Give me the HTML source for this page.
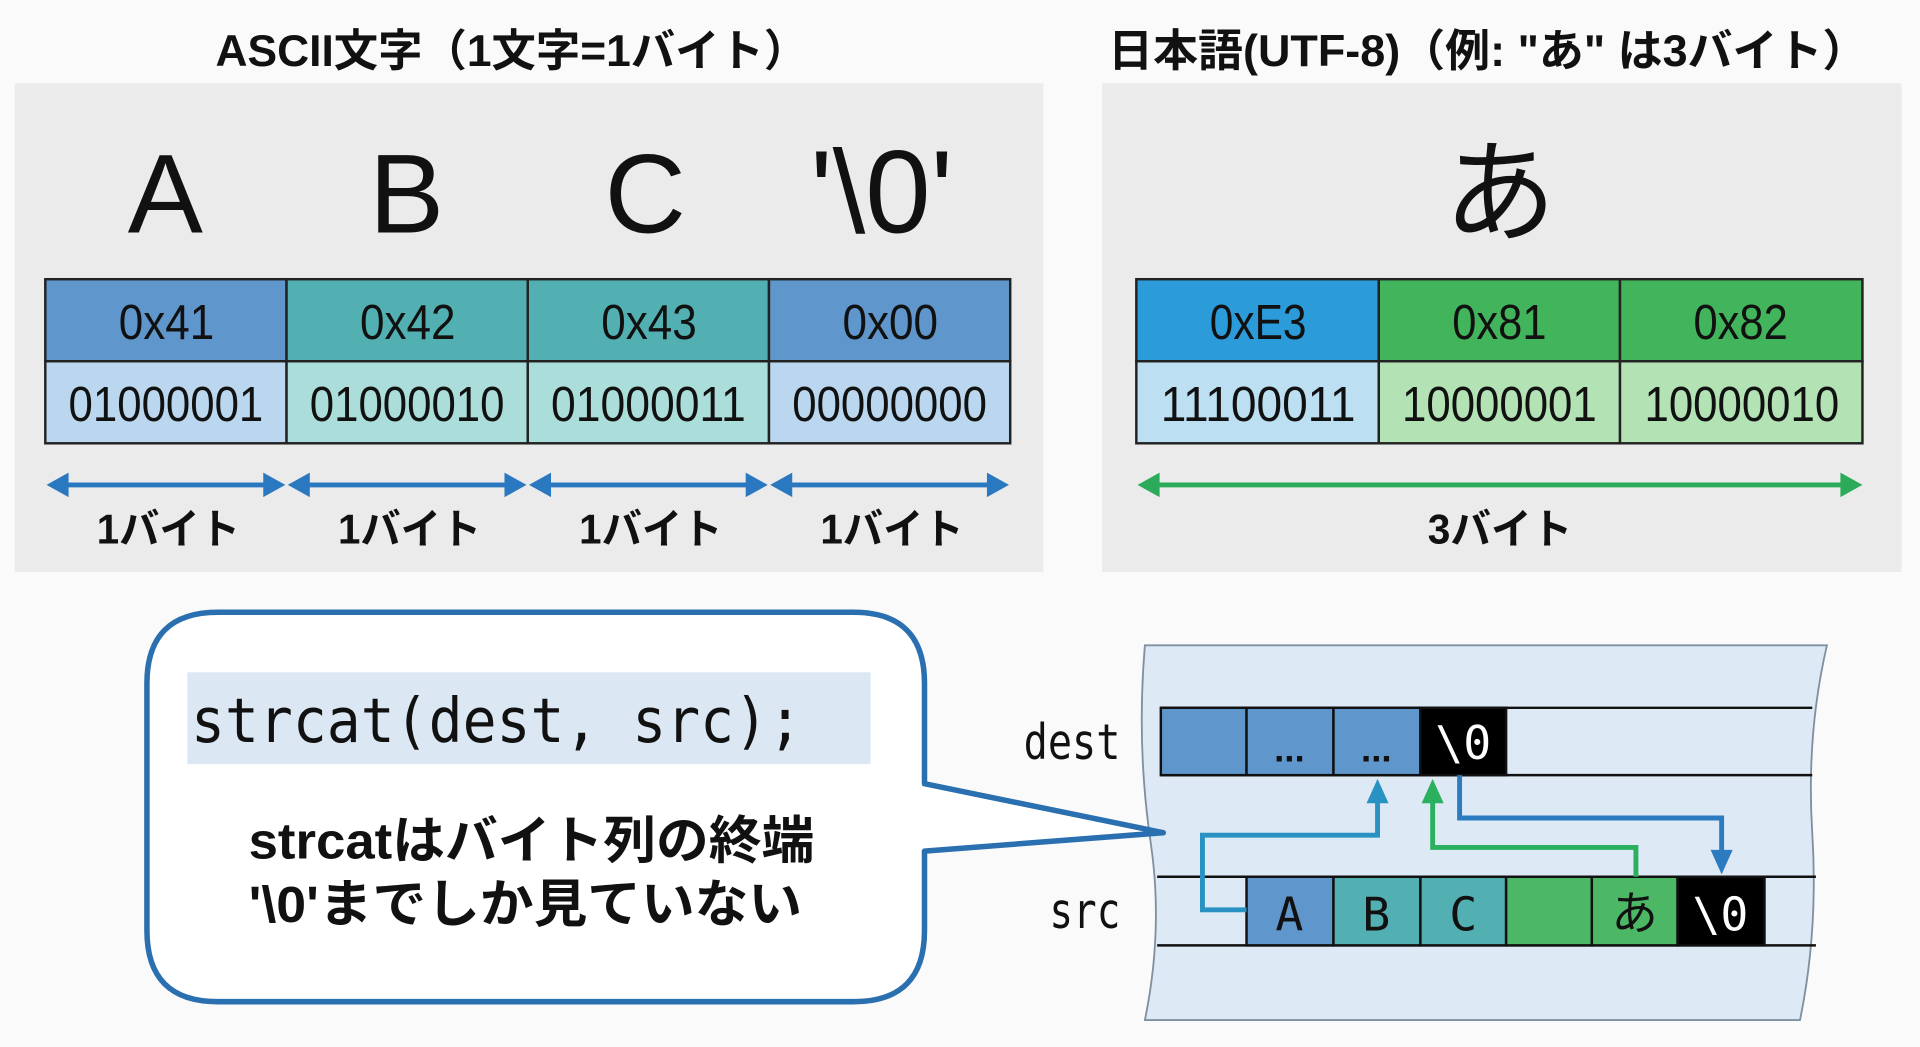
<!DOCTYPE html>
<html><head><meta charset="utf-8"><style>
html,body{margin:0;padding:0;background:#fafafa;}
svg{display:block}
text{font-family:"Liberation Sans","Noto Sans CJK JP",sans-serif;fill:#111}
.m{font-family:"DejaVu Sans Mono","Liberation Mono",monospace}
</style></head><body>
<svg width="1920" height="1047" viewBox="0 0 1568 855" preserveAspectRatio="none" xmlns="http://www.w3.org/2000/svg">
<rect width="1568" height="855" fill="#fafafa"/>
<!-- titles -->
<text x="176" y="54" font-size="36" textLength="484" lengthAdjust="spacingAndGlyphs" font-weight="bold">ASCII文字（1文字=1バイト）</text>
<text x="905" y="54" font-size="36" textLength="620" lengthAdjust="spacingAndGlyphs" font-weight="bold">日本語(UTF-8)（例: "あ" は3バイト）</text>
<!-- panels -->
<rect x="12" y="68" width="840" height="399" fill="#ebebeb"/>
<rect x="900" y="68" width="653" height="399" fill="#ebebeb"/>
<!-- big letters -->
<g font-size="92" text-anchor="middle">
<text x="135" y="190">A</text><text x="332" y="190">B</text><text x="527" y="190">C</text><text x="720" y="190" font-size="96">'\0'</text>
<text x="1225" y="190">あ</text>
</g>
<!-- tables -->
<g stroke="#222" stroke-width="2">
<rect x="37" y="228" width="197" height="67" fill="#5f96cb"/>
<rect x="234" y="228" width="197" height="67" fill="#52b0b2"/>
<rect x="431" y="228" width="197" height="67" fill="#52b0b2"/>
<rect x="628" y="228" width="197" height="67" fill="#5f96cb"/>
<rect x="37" y="295" width="197" height="67" fill="#bad7ef"/>
<rect x="234" y="295" width="197" height="67" fill="#abdeda"/>
<rect x="431" y="295" width="197" height="67" fill="#abdeda"/>
<rect x="628" y="295" width="197" height="67" fill="#bad7ef"/>
<rect x="928" y="228" width="198" height="67" fill="#2b9bd9"/>
<rect x="1126" y="228" width="197" height="67" fill="#42b45c"/>
<rect x="1323" y="228" width="198" height="67" fill="#42b45c"/>
<rect x="928" y="295" width="198" height="67" fill="#bcdff2"/>
<rect x="1126" y="295" width="197" height="67" fill="#b3e2b5"/>
<rect x="1323" y="295" width="198" height="67" fill="#b3e2b5"/>
</g>
<g font-size="40" lengthAdjust="spacingAndGlyphs">
<text x="97" y="277" textLength="78" lengthAdjust="spacingAndGlyphs">0x41</text>
<text x="294" y="277" textLength="78" lengthAdjust="spacingAndGlyphs">0x42</text>
<text x="491" y="277" textLength="78" lengthAdjust="spacingAndGlyphs">0x43</text>
<text x="688" y="277" textLength="78" lengthAdjust="spacingAndGlyphs">0x00</text>
<text x="56" y="344" textLength="159" lengthAdjust="spacingAndGlyphs">01000001</text>
<text x="253" y="344" textLength="159" lengthAdjust="spacingAndGlyphs">01000010</text>
<text x="450" y="344" textLength="159" lengthAdjust="spacingAndGlyphs">01000011</text>
<text x="647" y="344" textLength="159" lengthAdjust="spacingAndGlyphs">00000000</text>
<text x="988" y="277" textLength="79" lengthAdjust="spacingAndGlyphs">0xE3</text>
<text x="1186" y="277" textLength="77" lengthAdjust="spacingAndGlyphs">0x81</text>
<text x="1383" y="277" textLength="77" lengthAdjust="spacingAndGlyphs">0x82</text>
<text x="948" y="344" textLength="159" lengthAdjust="spacingAndGlyphs">11100011</text>
<text x="1145" y="344" textLength="159" lengthAdjust="spacingAndGlyphs">10000001</text>
<text x="1343" y="344" textLength="159" lengthAdjust="spacingAndGlyphs">10000010</text>
</g>
<!-- byte arrows -->
<g stroke="#2a78bf" stroke-width="4" fill="#2a78bf">
<line x1="50" y1="396" x2="221" y2="396"/><line x1="247" y1="396" x2="418" y2="396"/>
<line x1="444" y1="396" x2="615" y2="396"/><line x1="641" y1="396" x2="812" y2="396"/>
</g>
<g fill="#2a78bf">
<path d="M38 396 L56 386 L56 406Z M233 396 L215 386 L215 406Z"/>
<path d="M235 396 L253 386 L253 406Z M430 396 L412 386 L412 406Z"/>
<path d="M432 396 L450 386 L450 406Z M627 396 L609 386 L609 406Z"/>
<path d="M629 396 L647 386 L647 406Z M824 396 L806 386 L806 406Z"/>
</g>
<line x1="942" y1="396" x2="1508" y2="396" stroke="#2bab5a" stroke-width="4"/>
<path d="M929 396 L947 386 L947 406Z M1521 396 L1503 386 L1503 406Z" fill="#2bab5a"/>
<g font-size="34" font-weight="bold">
<text x="79" y="444" textLength="117" lengthAdjust="spacingAndGlyphs">1バイト</text>
<text x="276" y="444" textLength="117" lengthAdjust="spacingAndGlyphs">1バイト</text>
<text x="473" y="444" textLength="117" lengthAdjust="spacingAndGlyphs">1バイト</text>
<text x="670" y="444" textLength="117" lengthAdjust="spacingAndGlyphs">1バイト</text>
<text x="1166" y="444" textLength="118" lengthAdjust="spacingAndGlyphs">3バイト</text>
</g>
<!-- memory panel -->
<path d="M935 527 L1492 527 Q1475 600 1480 680 Q1485 760 1470 833 L935 833 Q950 760 940 690 Q928 610 935 527Z" fill="#dde9f4" stroke="#7f90a0" stroke-width="1.5"/>
<!-- speech bubble -->
<path d="M178 500 L697 500 Q755 500 755 558 L755 640 L950 680 L755 695 L755 760 Q755 818 697 818 L178 818 Q120 818 120 760 L120 558 Q120 500 178 500Z" fill="#fff" stroke="#2a6faf" stroke-width="4.5" stroke-linejoin="round"/>
<rect x="153" y="549" width="558" height="75" fill="#dbe8f3"/>
<text class="m" x="156" y="606" font-size="50" textLength="499" lengthAdjust="spacingAndGlyphs">strcat(dest, src);</text>
<text x="203" y="701" font-size="42" font-weight="bold" textLength="462" lengthAdjust="spacingAndGlyphs">strcatはバイト列の終端</text>
<text x="203" y="753" font-size="42" font-weight="bold" textLength="452" lengthAdjust="spacingAndGlyphs">'\0'までしか見ていない</text>
<!-- rows -->
<g stroke="#111" stroke-width="2">
<line x1="948" y1="578" x2="1480" y2="578"/><line x1="948" y1="633" x2="1480" y2="633"/>
<line x1="945" y1="716" x2="1483" y2="716"/><line x1="945" y1="772" x2="1483" y2="772"/>
<rect x="948" y="578" width="70" height="55" fill="#5f96cb"/>
<rect x="1018" y="578" width="71" height="55" fill="#5f96cb"/>
<rect x="1089" y="578" width="71" height="55" fill="#5f96cb"/>
<rect x="1160" y="578" width="70" height="55" fill="#000"/>
<rect x="1018" y="716" width="71" height="56" fill="#5f96cb"/>
<rect x="1089" y="716" width="71" height="56" fill="#52b0b2"/>
<rect x="1160" y="716" width="70" height="56" fill="#52b0b2"/>
<rect x="1230" y="716" width="70" height="56" fill="#4cb866"/>
<rect x="1300" y="716" width="70" height="56" fill="#4cb866"/>
<rect x="1370" y="716" width="71" height="56" fill="#000"/>
</g>
<g text-anchor="middle">
<text x="1053" y="622" font-size="30" font-weight="bold">...</text>
<text x="1124" y="622" font-size="30" font-weight="bold">...</text>
<text class="m" x="1195" y="620" font-size="38" style="fill:#fff">\0</text>
<text class="m" x="1053" y="760" font-size="38">A</text>
<text class="m" x="1124" y="760" font-size="38">B</text>
<text class="m" x="1195" y="760" font-size="38">C</text>
<text x="1335" y="759" font-size="38">あ</text>
<text class="m" x="1405" y="760" font-size="38" style="fill:#fff">\0</text>
</g>
<text class="m" x="836" y="620" font-size="40" textLength="79" lengthAdjust="spacingAndGlyphs">dest</text>
<text class="m" x="857" y="758" font-size="40" textLength="58" lengthAdjust="spacingAndGlyphs">src</text>
<!-- connector arrows -->
<path d="M1018 743 L982 743 L982 682 L1125 682 L1125 652" fill="none" stroke="#2a92c2" stroke-width="4"/>
<path d="M1125 636 L1116 656 L1134 656Z" fill="#2a92c2"/>
<path d="M1336 716 L1336 692 L1170 692 L1170 652" fill="none" stroke="#2bb060" stroke-width="4"/>
<path d="M1170 636 L1161 656 L1179 656Z" fill="#2bb060"/>
<path d="M1192 633 L1192 668 L1406 668 L1406 698" fill="none" stroke="#2a7bc0" stroke-width="4"/>
<path d="M1406 714 L1397 694 L1415 694Z" fill="#2a7bc0"/>
</svg>
</body></html>
